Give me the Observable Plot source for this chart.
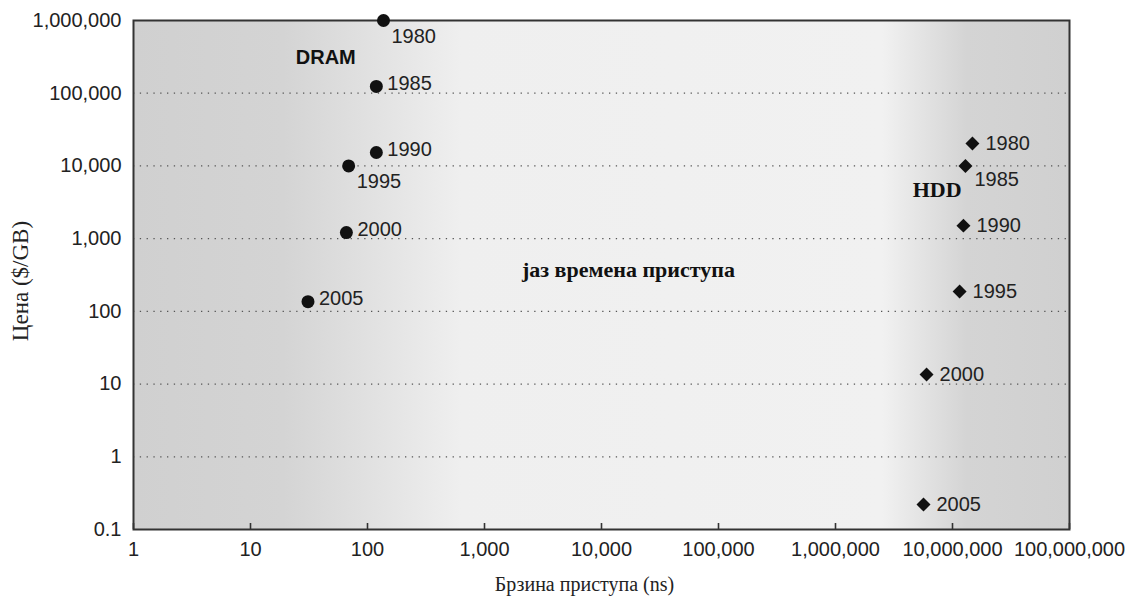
<!DOCTYPE html>
<html>
<head>
<meta charset="utf-8">
<script src="https://cdn.jsdelivr.net/npm/d3@7"></script>
<script src="https://cdn.jsdelivr.net/npm/@observablehq/plot@0.6"></script>
<style>
  html, body { margin: 0; padding: 0; background: #fff; }
</style>
</head>
<body>
<div id="chart"></div>
<script>
// ---- data ----
const years = [1980, 1985, 1990, 1995, 2000, 2005];
const dramAccessNs = [137, 119, 119, 69, 66, 31];
const dramCostPerGB = [1000000, 124000, 15300, 10000, 1210, 136];
const hddAccessNs = [14800000, 12900000, 12400000, 11500000, 6000000, 5650000];
const hddCostPerGB = [20300, 10000, 1510, 187, 13.5, 0.22];
const xTicks = [1, 10, 100, 1000, 10000, 100000, 1000000, 10000000, 100000000];
const yTicks = [0.1, 1, 10, 100, 1000, 10000, 100000, 1000000];
const gridTicks = [1, 10, 100, 1000, 10000, 100000];
const xTitle = "Брзина приступа (ns)";
const yTitle = "Цена ($/GB)";
const annotations = [
  {text: "DRAM", x: 44, y: 310000, serif: false},
  {text: "HDD", x: 7400000, y: 4600, serif: true},
  {text: "јаз времена приступа", x: 17000, y: 376, serif: true}
];

// ---- build table ----
const dram = years.map((year, i) => ({year, x: dramAccessNs[i], y: dramCostPerGB[i]}));
const hdd = years.map((year, i) => ({year, x: hddAccessNs[i], y: hddCostPerGB[i]}));
const dramBelow = new Set([1980, 1995]);
const hddBelow = new Set([1985]);

const sans = "'Liberation Sans', Arial, Helvetica, sans-serif";
const serif = "'Liberation Serif', 'Times New Roman', serif";
const fmt = d => d < 1 ? String(d) : d3.format(",")(d);

const chart = Plot.plot({
  width: 1131,
  height: 598,
  marginLeft: 133,
  marginRight: 62,
  marginTop: 20,
  marginBottom: 69,
  style: {fontFamily: sans, fontSize: "20px", color: "#222", background: "#fff"},
  x: {type: "log", domain: [1, 1e8], label: null},
  y: {type: "log", domain: [0.1, 1e6], label: null},
  marks: [
    Plot.frame({fill: "url(#bggrad)"}),
    Plot.ruleY(gridTicks, {stroke: "#555", strokeWidth: 1.3, strokeDasharray: "1.3,5.5"}),
    Plot.tickX(xTicks, {x: d => d, insetTop: 503, stroke: "#333", strokeWidth: 1.6}),
    Plot.axisX(xTicks, {tickSize: 0, tickPadding: 12, tickFormat: fmt, fontSize: 20, fill: "#222"}),
    Plot.axisY(yTicks, {tickSize: 0, tickPadding: 12, tickFormat: fmt, fontSize: 20, fill: "#222"}),
    Plot.frame({stroke: "#333", strokeWidth: 2}),
    Plot.dot(dram, {x: "x", y: "y", r: 6.5, fill: "#111", symbol: "circle"}),
    Plot.dot(hdd, {x: "x", y: "y", r: 6.3, fill: "#111", symbol: "diamond2"}),
    Plot.text(dram.filter(d => !dramBelow.has(d.year)), {x: "x", y: "y", text: d => String(d.year), textAnchor: "start", dx: 11, dy: -3, fill: "#222", fontSize: 20}),
    Plot.text(dram.filter(d => dramBelow.has(d.year)), {x: "x", y: "y", text: d => String(d.year), textAnchor: "start", dx: 8, dy: 16, fill: "#222", fontSize: 20}),
    Plot.text(hdd.filter(d => !hddBelow.has(d.year)), {x: "x", y: "y", text: d => String(d.year), textAnchor: "start", dx: 13, dy: 0, fill: "#222", fontSize: 20}),
    Plot.text(hdd.filter(d => hddBelow.has(d.year)), {x: "x", y: "y", text: d => String(d.year), textAnchor: "start", dx: 9, dy: 14, fill: "#222", fontSize: 20}),
    Plot.text(annotations.filter(a => !a.serif), {x: "x", y: "y", text: "text", fontWeight: "bold", fontSize: 20, fill: "#111", fontFamily: sans}),
    Plot.text(annotations.filter(a => a.serif), {x: "x", y: "y", text: "text", fontWeight: "bold", fontSize: 22, fill: "#111", fontFamily: serif}),
    Plot.text([xTitle], {frameAnchor: "bottom", textAnchor: "middle", lineAnchor: "middle", dy: 55, dx: -17, fontFamily: serif, fontSize: 20, fill: "#222"}),
    Plot.text([yTitle], {frameAnchor: "left", textAnchor: "middle", lineAnchor: "middle", dx: -113, dy: 6, rotate: -90, fontFamily: serif, fontSize: 23, fill: "#222"})
  ]
});

// gradient background definition
const svg = d3.select(chart);
const defs = svg.insert("defs", ":first-child");
const grad = defs.append("linearGradient").attr("id", "bggrad").attr("x1", "0").attr("x2", "1").attr("y1", "0").attr("y2", "0");
[[0, "#d0d0d0"], [0.16, "#d4d4d4"], [0.35, "#efefef"], [0.80, "#f1f1f1"], [0.89, "#d4d4d4"], [1, "#d0d0d0"]]
  .forEach(([o, c]) => grad.append("stop").attr("offset", o).attr("stop-color", c));

document.getElementById("chart").appendChild(chart);
</script>
</body>
</html>
